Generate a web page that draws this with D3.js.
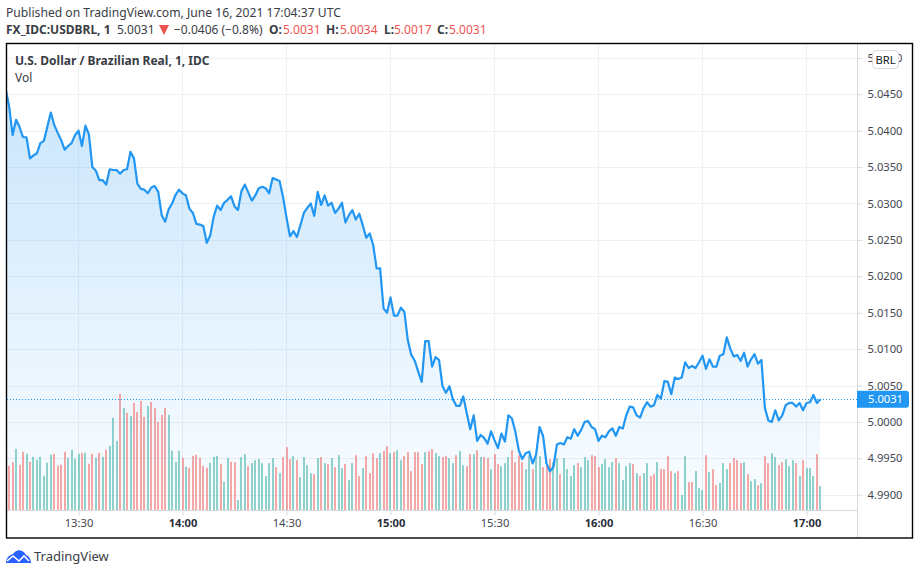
<!DOCTYPE html>
<html>
<head>
<meta charset="utf-8">
<script src="https://cdnjs.cloudflare.com/ajax/libs/d3/7.8.5/d3.min.js"></script>
<style>
    html, body { margin: 0; padding: 0; background: #fff; }
    svg { display: block; }
    text { font-family: "Noto Sans", sans-serif; font-size: 12px; }
    .axis text { fill: #434651; }
    .axis .major text { font-weight: 700; fill: #2a2e39; }
    .bold { font-weight: 700; }
</style>
</head>
<body>
<div id="chart"></div>
<script>
// One minute bars, first one is 13:09 (minutes since midnight)
var startMinute = 789;

// Close price per minute
var prices = [
    5.0457, 5.0433, 5.0394, 5.0415, 5.0405, 5.0391, 5.0391, 5.0362, 5.0366, 5.0369,
    5.0383, 5.0386, 5.0405, 5.0425, 5.0408, 5.0397, 5.0387, 5.0374, 5.0379, 5.0383,
    5.0394, 5.0400, 5.0379, 5.0407, 5.0395, 5.0350, 5.0345, 5.0332, 5.0332, 5.0326,
    5.0347, 5.0346, 5.0346, 5.0341, 5.0346, 5.0347, 5.0371, 5.0362, 5.0327, 5.0320,
    5.0319, 5.0314, 5.0322, 5.0324, 5.0316, 5.0284, 5.0275, 5.0292, 5.0300, 5.0312,
    5.0319, 5.0314, 5.0311, 5.0293, 5.0287, 5.0272, 5.0271, 5.0269, 5.0246, 5.0256,
    5.0282, 5.0297, 5.0291, 5.0301, 5.0305, 5.0310, 5.0296, 5.0291, 5.0317, 5.0326,
    5.0315, 5.0304, 5.0311, 5.0321, 5.0323, 5.0321, 5.0314, 5.0335, 5.0333, 5.0331,
    5.0309, 5.0281, 5.0255, 5.0262, 5.0254, 5.0270, 5.0287, 5.0294, 5.0300, 5.0283,
    5.0316, 5.0298, 5.0311, 5.0297, 5.0301, 5.0287, 5.0293, 5.0301, 5.0274, 5.0284,
    5.0291, 5.0278, 5.0286, 5.0270, 5.0253, 5.0259, 5.0243, 5.0211, 5.0211, 5.0156,
    5.0150, 5.0171, 5.0146, 5.0146, 5.0157, 5.0151, 5.0112, 5.0092, 5.0084, 5.0069,
    5.0055, 5.0111, 5.0111, 5.0076, 5.0089, 5.0085, 5.0049, 5.0040, 5.0049, 5.0031,
    5.0022, 5.0022, 5.0035, 5.0012, 4.9990, 5.0009, 4.9974, 4.9982, 4.9978, 4.9970,
    4.9987, 4.9975, 4.9964, 4.9984, 4.9973, 5.0009, 5.0005, 4.9987, 4.9961, 4.9949,
    4.9957, 4.9959, 4.9943, 4.9955, 4.9993, 4.9981, 4.9943, 4.9932, 4.9938, 4.9969,
    4.9971, 4.9969, 4.9979, 4.9977, 4.9990, 4.9981, 4.9989, 5.0000, 5.0001, 4.9993,
    4.9990, 4.9974, 4.9981, 4.9979, 4.9987, 4.9991, 4.9981, 4.9993, 4.9991, 5.0009,
    5.0021, 5.0020, 5.0009, 5.0006, 5.0019, 5.0027, 5.0021, 5.0023, 5.0037, 5.0032,
    5.0056, 5.0055, 5.0038, 5.0061, 5.0059, 5.0061, 5.0082, 5.0074, 5.0077, 5.0074,
    5.0082, 5.0091, 5.0073, 5.0086, 5.0076, 5.0076, 5.0091, 5.0093, 5.0116, 5.0101,
    5.0090, 5.0092, 5.0084, 5.0095, 5.0076, 5.0086, 5.0093, 5.0080, 5.0085, 5.0019,
    5.0002, 5.0000, 5.0016, 5.0002, 5.0009, 5.0023, 5.0026, 5.0026, 5.0021, 5.0026,
    5.0016, 5.0026, 5.0027, 5.0037, 5.0026, 5.0031
];

// Volume per minute (the original has no volume axis, so the unit is arbitrary)
var volumes = [
    130, 133, 144, 184, 136, 175, 169, 145, 160, 151,
    160, 103, 142, 166, 169, 133, 136, 175, 157, 181,
    154, 169, 172, 172, 139, 169, 157, 172, 160, 181,
    193, 277, 208, 349, 307, 292, 283, 322, 295, 328,
    280, 313, 325, 307, 265, 286, 307, 286, 178, 145,
    178, 157, 130, 127, 163, 166, 157, 133, 127, 142,
    160, 163, 139, 85, 157, 145, 144, 30, 159, 168,
    132, 141, 150, 153, 141, 102, 141, 156, 129, 111,
    159, 189, 153, 162, 150, 99, 159, 135, 111, 108,
    156, 159, 141, 138, 156, 129, 165, 126, 138, 90,
    141, 165, 102, 126, 162, 111, 171, 156, 171, 177,
    192, 171, 174, 180, 150, 162, 174, 117, 174, 174,
    138, 174, 177, 183, 171, 162, 159, 162, 156, 141,
    165, 177, 135, 132, 168, 168, 180, 159, 159, 156,
    123, 168, 138, 132, 141, 159, 180, 144, 165, 144,
    123, 165, 123, 162, 162, 129, 132, 153, 144, 156,
    108, 156, 123, 102, 135, 141, 129, 159, 150, 165,
    162, 129, 138, 153, 129, 144, 156, 141, 90, 132,
    141, 138, 111, 102, 111, 141, 102, 108, 144, 123,
    123, 162, 117, 111, 117, 45, 162, 84, 84, 117,
    66, 60, 165, 114, 123, 75, 81, 141, 123, 141,
    156, 150, 141, 144, 108, 87, 93, 75, 81, 162,
    141, 171, 159, 135, 144, 153, 132, 150, 141, 102,
    150, 126, 126, 102, 168, 72
];

// Bar colour per minute: g = up, r = down
var volumeDirections = (
    "grrgrrgrgg" + "ggggrrrrgg" + "ggrgrrgrgr" + "gggrgrgrrr" +
    "rgrrrrrggg" + "grgrrrrrrg" + "ggrggrrggg" + "rgggggggrg" +
    "rrrgrggggr" + "grgrgrggrg" + "grrgrrrrgr" + "rgrggrrrrr" +
    "rgrrggrrgg" + "rggrrgrgrr" + "grrgggrrrr" + "ggrggrrrgg" +
    "rggggrgggr" + "rrggggrggg" + "grgrggrrgr" + "rrrgrggrrg" +
    "ggrgrrgggr" + "rrrgrggrgr" + "rggrrgggrg" + "rgggrg"
).split("");

var priceTicks = [5.05, 5.045, 5.04, 5.035, 5.03, 5.025, 5.02, 5.015, 5.01, 5.005, 5.0, 4.995, 4.99];
var timeTicks = [810, 840, 870, 900, 930, 960, 990, 1020];
var timeLabels = ["13:30", "14:00", "14:30", "15:00", "15:30", "16:00", "16:30", "17:00"];
var majorTimeTicks = [840, 900, 960, 1020];
var lastPrice = 5.0031;

var headerValues = [
    {label: "O:", value: "5.0031", labelX: 269, valueX: 283},
    {label: "H:", value: "5.0034", labelX: 326, valueX: 340},
    {label: "L:", value: "5.0017", labelX: 384, valueX: 394},
    {label: "C:", value: "5.0031", labelX: 437, valueX: 449}
];


var width = 920, height = 575;
var pane = {left: 7, right: 857, top: 44, bottom: 510};

var colorLine = "#2196f3";
var colorGrid = "#eef0f3";
var colorAxis = "#d6d8de";
var colorRed = "#ef5350";
var axisFontSize = "11.2px";

var svg = d3.select("#chart").append("svg")
    .attr("width", width)
    .attr("height", height);

var x = d3.scaleLinear().domain([810, 1020]).range([78.5, 806.5]);
var y = d3.scaleLinear().domain([5.045, 4.99]).range([94.3, 494.7]);
var yVolume = d3.scaleLinear().domain([0, 349]).range([pane.bottom, 394]);

var minute = function (i) { return startMinute + i; };

var defs = svg.append("defs");

defs.append("clipPath").attr("id", "pane-clip")
    .append("rect")
    .attr("x", pane.left)
    .attr("y", pane.top)
    .attr("width", pane.right - pane.left)
    .attr("height", pane.bottom - pane.top);

var gradient = defs.append("linearGradient")
    .attr("id", "area-fill")
    .attr("gradientUnits", "userSpaceOnUse")
    .attr("x1", 0).attr("x2", 0)
    .attr("y1", y(d3.max(prices)))
    .attr("y2", pane.bottom);
gradient.append("stop").attr("offset", 0).attr("stop-color", colorLine).attr("stop-opacity", 0.24);
gradient.append("stop").attr("offset", 1).attr("stop-color", colorLine).attr("stop-opacity", 0.02);


// Grid
var grid = svg.append("g").attr("clip-path", "url(#pane-clip)");

grid.selectAll(".grid-h")
    .data(priceTicks)
    .enter().append("line")
    .attr("class", "grid-h")
    .attr("x1", pane.left)
    .attr("x2", pane.right)
    .attr("y1", function (d) { return Math.round(y(d)) + 0.5; })
    .attr("y2", function (d) { return Math.round(y(d)) + 0.5; })
    .attr("stroke", colorGrid);

grid.selectAll(".grid-v")
    .data(timeTicks)
    .enter().append("line")
    .attr("class", "grid-v")
    .attr("x1", function (d) { return Math.floor(x(d)) + 0.5; })
    .attr("x2", function (d) { return Math.floor(x(d)) + 0.5; })
    .attr("y1", pane.top)
    .attr("y2", pane.bottom)
    .attr("stroke", colorGrid);


// Price area, volume bars, price line
var plot = svg.append("g").attr("clip-path", "url(#pane-clip)");

var area = d3.area()
    .x(function (d, i) { return x(minute(i)); })
    .y0(pane.bottom)
    .y1(function (d) { return y(d); });

plot.append("path")
    .attr("d", area(prices))
    .attr("fill", "url(#area-fill)");

plot.selectAll(".volume-bar")
    .data(volumes)
    .enter().append("rect")
    .attr("class", "volume-bar")
    .attr("x", function (d, i) { return Math.round(x(minute(i)) - 1); })
    .attr("y", function (d) { return yVolume(d); })
    .attr("width", 2)
    .attr("height", function (d) { return pane.bottom - yVolume(d); })
    .attr("fill", function (d, i) { return volumeDirections[i] == "r" ? colorRed : "#26a69a"; })
    .attr("fill-opacity", 0.5);

var line = d3.line()
    .x(function (d, i) { return x(minute(i)); })
    .y(function (d) { return y(d); });

plot.append("path")
    .attr("d", line(prices))
    .attr("fill", "none")
    .attr("stroke", colorLine)
    .attr("stroke-width", 2.2)
    .attr("stroke-linejoin", "round");

plot.append("line")
    .attr("x1", pane.left)
    .attr("x2", pane.right)
    .attr("y1", Math.round(y(lastPrice)) + 0.5)
    .attr("y2", Math.round(y(lastPrice)) + 0.5)
    .attr("stroke", colorLine)
    .attr("stroke-dasharray", "1 2");


// Axes
var priceAxis = svg.append("g")
    .attr("class", "axis")
    .attr("transform", "translate(" + (pane.right + 0.5) + ",0)")
    .call(d3.axisRight(y)
        .tickValues(priceTicks)
        .tickSize(5)
        .tickPadding(5)
        .tickFormat(d3.format(".4f")));
priceAxis.select(".domain").remove();
priceAxis.selectAll(".tick line").attr("stroke", colorAxis);
priceAxis.selectAll("text").style("font-size", axisFontSize);

var timeAxis = svg.append("g")
    .attr("class", "axis")
    .attr("transform", "translate(0," + (pane.bottom + 0.5) + ")")
    .call(d3.axisBottom(x)
        .tickValues(timeTicks)
        .tickSize(5)
        .tickPadding(4)
        .tickFormat(function (d, i) { return timeLabels[i]; }));
timeAxis.select(".domain").remove();
timeAxis.selectAll(".tick line").attr("stroke", colorAxis);
timeAxis.selectAll(".tick").classed("major", function (d) { return majorTimeTicks.indexOf(d) >= 0; });
timeAxis.selectAll("text").style("font-size", axisFontSize);

svg.append("line")
    .attr("x1", pane.left).attr("x2", pane.right)
    .attr("y1", pane.bottom + 0.5).attr("y2", pane.bottom + 0.5)
    .attr("stroke", colorAxis);

svg.append("line")
    .attr("x1", pane.right + 0.5).attr("x2", pane.right + 0.5)
    .attr("y1", pane.top).attr("y2", 538)
    .attr("stroke", colorAxis);

// Last price label
var yLast = y(lastPrice);
svg.append("path")
    .attr("d", "M" + pane.right + "," + (yLast - 8.5) + "h49a3,3 0 0 1 3,3v11a3,3 0 0 1 -3,3h-49z")
    .attr("fill", colorLine);
svg.append("text")
    .attr("x", 868)
    .attr("y", yLast + 4)
    .attr("fill", "#fff")
    .style("font-size", axisFontSize)
    .text("5.0031");

// Currency button
svg.append("rect")
    .attr("x", 872.5).attr("y", 50.5)
    .attr("width", 26).attr("height", 18)
    .attr("rx", 4)
    .attr("fill", "#fff")
    .attr("stroke", "#d6d8de");
svg.append("text")
    .attr("x", 885.5).attr("y", 63.5)
    .attr("text-anchor", "middle")
    .attr("fill", "#131722")
    .style("font-size", "11.2px")
    .text("BRL");

// Frame
svg.append("rect")
    .attr("x", 6.5).attr("y", 43.5)
    .attr("width", 906).attr("height", 494.5)
    .attr("fill", "none")
    .attr("stroke", "#000")
    .attr("stroke-width", 1.4);


// Header
var colorText = "#3a3d45";

svg.append("text").attr("x", 6).attr("y", 17).attr("fill", colorText)
    .style("font-size", "12.15px")
    .text("Published on TradingView.com, June 16, 2021 17:04:37 UTC");

svg.append("text").attr("class", "bold").attr("x", 6).attr("y", 34).attr("fill", colorText)
    .text("FX_IDC:USDBRL, 1");
svg.append("text").attr("x", 117).attr("y", 34).attr("fill", colorText).text("5.0031");
svg.append("path").attr("d", "M159,25h10l-5,10z").attr("fill", colorRed);
svg.append("text").attr("x", 174).attr("y", 34).attr("fill", colorText).text("\u22120.0406 (\u22120.8%)");

headerValues.forEach(function (d) {
    svg.append("text").attr("class", "bold").attr("x", d.labelX).attr("y", 34).attr("fill", colorText).text(d.label);
    svg.append("text").attr("x", d.valueX).attr("y", 34).attr("fill", colorRed).text(d.value);
});

// Pane legend
svg.append("text").attr("class", "bold").attr("x", 15).attr("y", 65).attr("fill", colorText)
    .text("U.S. Dollar / Brazilian Real, 1, IDC");
svg.append("text").attr("x", 15).attr("y", 82).attr("fill", colorText).text("Vol");


// Logo
var logo = svg.append("g");
logo.append("path")
    .attr("d", "M6,563c0-5 3-8 7-9c2-3 6-5 9-3c2,1 3,2 4,4c3,1 5,4 5,8z")
    .attr("fill", "#2962ff");
logo.append("path")
    .attr("d", "M7,561l6-5l6,5l5-5l5,5")
    .attr("fill", "none")
    .attr("stroke", "#fff")
    .attr("stroke-width", 1.6);
svg.append("text").attr("x", 34).attr("y", 561).attr("fill", colorText)
    .style("font-size", "13px")
    .text("TradingView");
</script>
</body>
</html>
